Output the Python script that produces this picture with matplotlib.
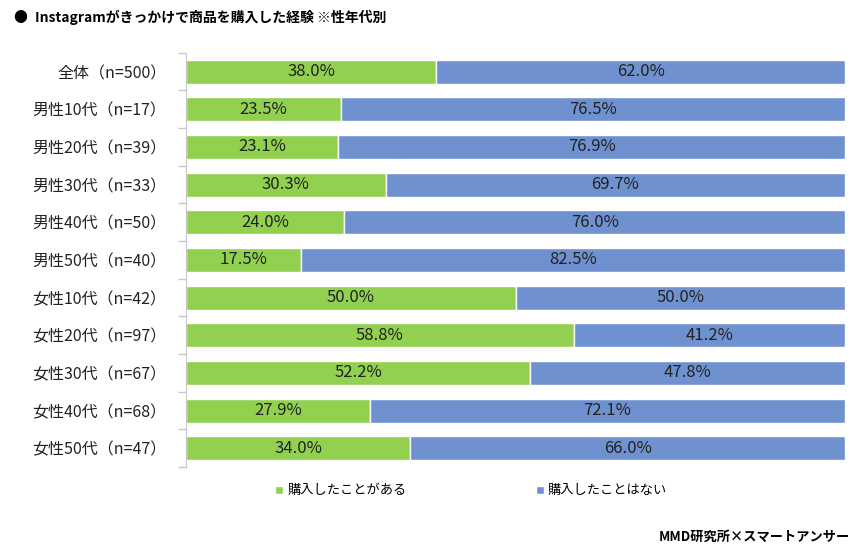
import matplotlib
matplotlib.use("Agg")
import matplotlib.pyplot as plt
import numpy as np

plt.rcParams['font.family'] = ['Noto Sans CJK JP', 'DejaVu Sans']

categories = ["全体（n=500）", "男性10代（n=17）", "男性20代（n=39）", "男性30代（n=33）",
              "男性40代（n=50）", "男性50代（n=40）", "女性10代（n=42）", "女性20代（n=97）",
              "女性30代（n=67）", "女性40代（n=68）", "女性50代（n=47）"]
bought = [38.0, 23.5, 23.1, 30.3, 24.0, 17.5, 50.0, 58.8, 52.2, 27.9, 34.0]
not_bought = [62.0, 76.5, 76.9, 69.7, 76.0, 82.5, 50.0, 41.2, 47.8, 72.1, 66.0]
series_names = ["購入したことがある", "購入したことはない"]

green = "#92D050"
blue = "#6F91CF"

fig = plt.figure(figsize=(8.66, 5.56), dpi=100)
ax = fig.add_axes([0.2148, 0.160, 0.761, 0.745])

y = np.arange(len(categories))
h = 0.64
b1 = ax.barh(y, bought, height=h, color=green, edgecolor="white", linewidth=1.0, label=series_names[0])
b2 = ax.barh(y, not_bought, left=bought, height=h, color=blue, edgecolor="white", linewidth=1.0, label=series_names[1])

for yi, a, b in zip(y, bought, not_bought):
    ax.text(a / 2, yi, f"{a:.1f}%", ha="center", va="center", fontsize=12, color="#222222")
    ax.text(a + b / 2, yi, f"{b:.1f}%", ha="center", va="center", fontsize=12, color="#222222")

ax.set_xlim(0, 100)
ax.set_ylim(len(categories) - 0.5, -0.5)
ax.set_yticks(np.arange(len(categories) + 1) - 0.5, minor=False)
ax.set_yticklabels([])
ax.set_yticks(y, minor=True)
ax.set_yticklabels(categories, minor=True, fontsize=11.5, color="#222222")
ax.tick_params(axis="y", which="major", length=6, color="#c8c8c8", width=1)
ax.tick_params(axis="y", which="minor", length=0, pad=14)
ax.set_xticks([])
for s in ["top", "right", "bottom"]:
    ax.spines[s].set_visible(False)
ax.spines["left"].set_color("#c8c8c8")

fig.legend(handles=[b1, b2], labels=series_names, loc="center", bbox_to_anchor=(0.544, 0.117),
           ncol=2, frameon=False, fontsize=9.5, handlelength=0.6, handleheight=0.6,
           handletextpad=0.3, columnspacing=9.8)

fig.text(0.015, 0.968, "●", fontsize=10, ha="left", va="center", color="black")
fig.text(0.040, 0.968, "Instagramがきっかけで商品を購入した経験 ※性年代別", fontsize=10,
         fontweight="bold", ha="left", va="center")
fig.text(0.982, 0.035, "MMD研究所×スマートアンサー", fontsize=9.5, fontweight="bold",
         ha="right", va="center")

fig.savefig("out.png", dpi=100)
